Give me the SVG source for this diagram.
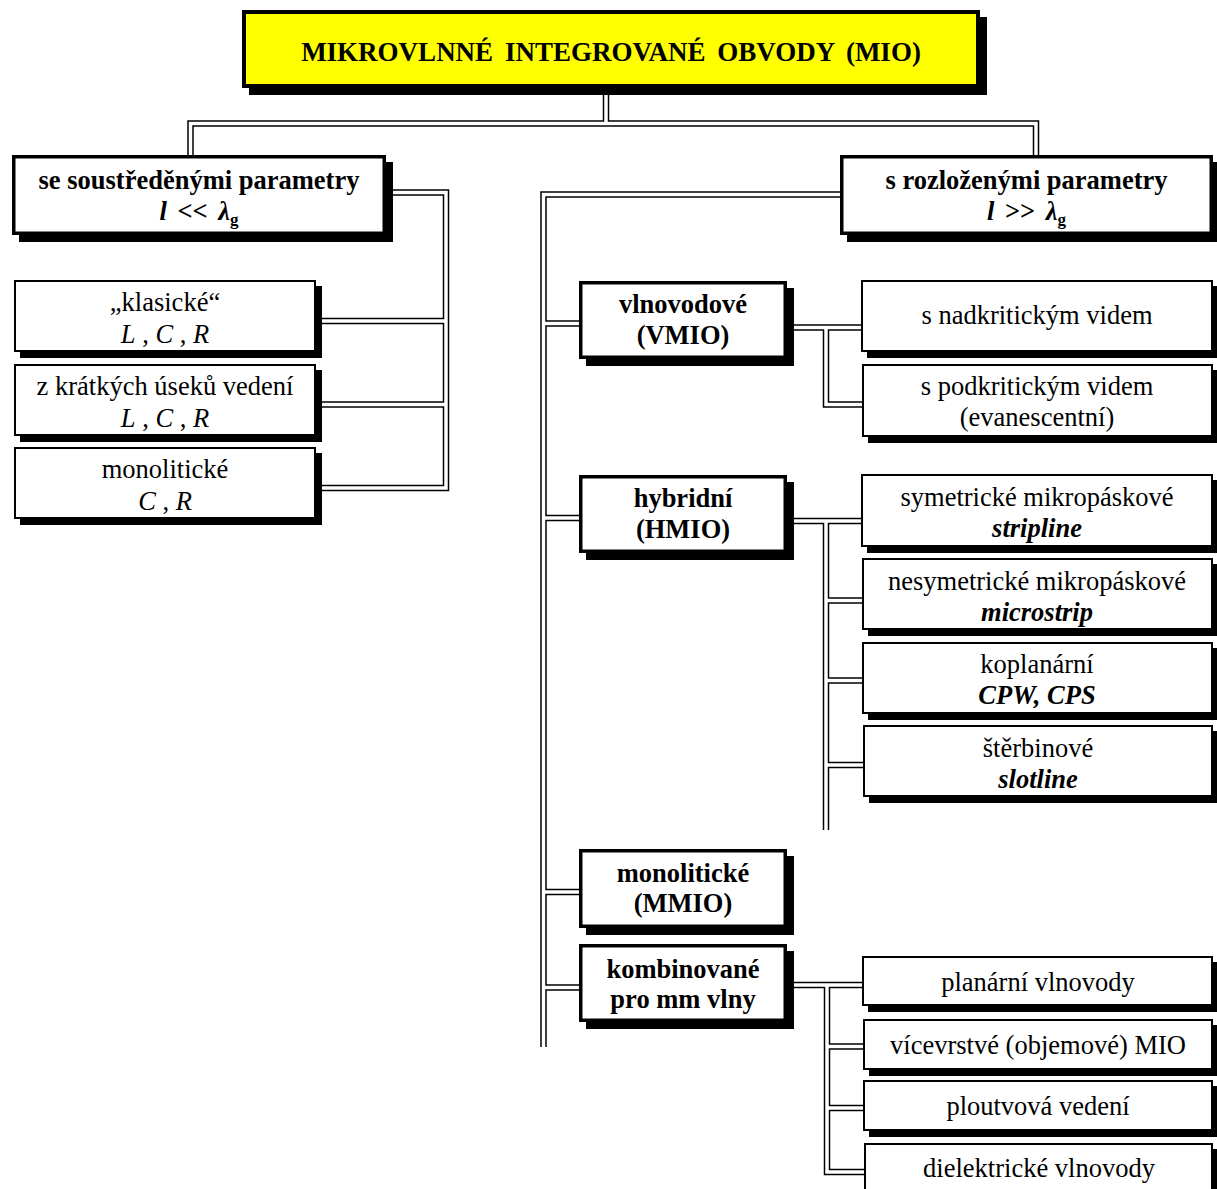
<svg xmlns="http://www.w3.org/2000/svg" width="1217" height="1189" viewBox="0 0 1217 1189">
  <style>
    .bg { fill: #ffffff; }
    .sh { fill: #000000; }
    .thick { fill: #ffffff; stroke: #000000; stroke-width: 3.5; }
    .thin { fill: #ffffff; stroke: #000000; stroke-width: 2; }
    .title-box { fill: #ffff00; stroke: #000000; stroke-width: 4; }
    .dbl-out { fill: none; stroke: #000000; stroke-width: 6.5; stroke-linejoin: miter; stroke-linecap: butt; }
    .dbl-in { fill: none; stroke: #ffffff; stroke-width: 3.5; stroke-linejoin: miter; stroke-linecap: butt; }
    text { font-family: "Liberation Serif", "Times New Roman", serif; fill: #000000; text-anchor: middle; }
    .t { font-size: 27px; font-weight: bold; word-spacing: 5px; }
    .b { font-size: 26.5px; font-weight: bold; }
    .r { font-size: 26.5px; }
    .i { font-style: italic; }
    .sub { font-size: 17px; font-weight: bold; }
  </style>
  <defs>
    <path id="wires" d="M 606 92 V 123.5
      M 190.5 158 V 123.5 H 1036 V 158
      M 383 192.5 H 446 V 488 H 312
      M 446 321 H 312
      M 446 404.5 H 312
      M 843 194.5 H 543.5 V 1047
      M 543.5 323.5 H 582
      M 543.5 518 H 582
      M 543.5 892 H 582
      M 543.5 987.5 H 582
      M 784 327.5 H 864
      M 826 327.5 V 404.5 H 865
      M 784 521 H 864
      M 826 521 V 830
      M 826 600.5 H 865
      M 826 680.5 H 865
      M 826 765 H 866
      M 784 985 H 865
      M 827 985 V 1172 H 867
      M 827 1046.5 H 866
      M 827 1108 H 866"/>
  </defs>
  <rect class="bg" x="0" y="0" width="1217" height="1189"/>

  <!-- connectors: each double line is a black stroke with a white core -->
  <g id="connectors">
    <use href="#wires" class="dbl-out"/>
    <use href="#wires" class="dbl-in"/>
  </g>

  <!-- root -->
  <g id="node-mio">
    <rect class="sh" x="249" y="17" width="738" height="78"/>
    <rect class="title-box" x="244" y="12" width="734" height="74"/>
    <text class="t" x="611" y="61">MIKROVLNNÉ INTEGROVANÉ OBVODY (MIO)</text>
  </g>

  <!-- lumped parameters branch -->
  <g id="node-lumped">
    <rect class="sh" x="19" y="162" width="374" height="80"/>
    <rect class="thick" x="13.75" y="156.75" width="370.5" height="76.5"/>
    <text class="b" x="199" y="189">se soustředěnými parametry</text>
    <text class="b" x="199" y="220" style="word-spacing:4px"><tspan class="i">l</tspan> &lt;&lt; <tspan class="i">λ</tspan><tspan class="sub" dy="5">g</tspan></text>
  </g>
  <g id="node-classic">
    <rect class="sh" x="20" y="286" width="302" height="72"/>
    <rect class="thin" x="15" y="281" width="300" height="70"/>
    <text class="r" x="165" y="311">„klasické“</text>
    <text class="r" x="165" y="343"><tspan class="i">L</tspan> , <tspan class="i">C</tspan> , <tspan class="i">R</tspan></text>
  </g>
  <g id="node-short-lines">
    <rect class="sh" x="20" y="370" width="302" height="72"/>
    <rect class="thin" x="15" y="365" width="300" height="70"/>
    <text class="r" x="165" y="395">z krátkých úseků vedení</text>
    <text class="r" x="165" y="427"><tspan class="i">L</tspan> , <tspan class="i">C</tspan> , <tspan class="i">R</tspan></text>
  </g>
  <g id="node-monolithic-lumped">
    <rect class="sh" x="20" y="453" width="302" height="72"/>
    <rect class="thin" x="15" y="448" width="300" height="70"/>
    <text class="r" x="165" y="478">monolitické</text>
    <text class="r" x="165" y="510"><tspan class="i">C</tspan> , <tspan class="i">R</tspan></text>
  </g>

  <!-- distributed parameters branch -->
  <g id="node-distributed">
    <rect class="sh" x="847" y="162" width="373" height="80"/>
    <rect class="thick" x="841.75" y="156.75" width="369.5" height="76.5"/>
    <text class="b" x="1026.5" y="189">s rozloženými parametry</text>
    <text class="b" x="1026.5" y="220" style="word-spacing:4px"><tspan class="i">l</tspan> &gt;&gt; <tspan class="i">λ</tspan><tspan class="sub" dy="5">g</tspan></text>
  </g>

  <g id="node-vmio">
    <rect class="sh" x="586" y="288" width="208" height="78"/>
    <rect class="thick" x="580.75" y="282.75" width="204.5" height="74.5"/>
    <text class="b" x="683" y="313">vlnovodové</text>
    <text class="b" x="683" y="344">(VMIO)</text>
  </g>
  <g id="node-supercritical">
    <rect class="sh" x="867" y="286" width="352" height="72"/>
    <rect class="thin" x="862" y="281" width="350" height="70"/>
    <text class="r" x="1037" y="324">s nadkritickým videm</text>
  </g>
  <g id="node-subcritical">
    <rect class="sh" x="868" y="370" width="351" height="73"/>
    <rect class="thin" x="863" y="365" width="349" height="71"/>
    <text class="r" x="1037" y="395">s podkritickým videm</text>
    <text class="r" x="1037" y="426">(evanescentní)</text>
  </g>

  <g id="node-hmio">
    <rect class="sh" x="586" y="482" width="208" height="78"/>
    <rect class="thick" x="580.75" y="476.75" width="204.5" height="74.5"/>
    <text class="b" x="683" y="507">hybridní</text>
    <text class="b" x="683" y="538">(HMIO)</text>
  </g>
  <g id="node-stripline">
    <rect class="sh" x="867" y="480" width="352" height="73"/>
    <rect class="thin" x="862" y="475" width="350" height="71"/>
    <text class="r" x="1037" y="506">symetrické mikropáskové</text>
    <text class="b i" x="1037" y="537">stripline</text>
  </g>
  <g id="node-microstrip">
    <rect class="sh" x="868" y="564" width="351" height="72"/>
    <rect class="thin" x="863" y="559" width="349" height="70"/>
    <text class="r" x="1037" y="590">nesymetrické mikropáskové</text>
    <text class="b i" x="1037" y="621">microstrip</text>
  </g>
  <g id="node-coplanar">
    <rect class="sh" x="868" y="648" width="351" height="72"/>
    <rect class="thin" x="863" y="643" width="349" height="70"/>
    <text class="r" x="1037" y="673">koplanární</text>
    <text class="b i" x="1037" y="704">CPW, CPS</text>
  </g>
  <g id="node-slotline">
    <rect class="sh" x="869" y="731" width="350" height="72"/>
    <rect class="thin" x="864" y="726" width="348" height="70"/>
    <text class="r" x="1038" y="757">štěrbinové</text>
    <text class="b i" x="1038" y="788">slotline</text>
  </g>

  <g id="node-mmio">
    <rect class="sh" x="586" y="856" width="208" height="79"/>
    <rect class="thick" x="580.75" y="850.75" width="204.5" height="75.5"/>
    <text class="b" x="683" y="882">monolitické</text>
    <text class="b" x="683" y="912">(MMIO)</text>
  </g>

  <g id="node-mm-waves">
    <rect class="sh" x="586" y="951" width="208" height="78"/>
    <rect class="thick" x="580.75" y="945.75" width="204.5" height="74.5"/>
    <text class="b" x="683" y="978">kombinované</text>
    <text class="b" x="683" y="1008">pro mm vlny</text>
  </g>
  <g id="node-planar">
    <rect class="sh" x="868" y="962" width="351" height="50"/>
    <rect class="thin" x="863" y="957" width="349" height="48"/>
    <text class="r" x="1038" y="991">planární vlnovody</text>
  </g>
  <g id="node-multilayer">
    <rect class="sh" x="869" y="1025" width="350" height="51"/>
    <rect class="thin" x="864" y="1020" width="348" height="49"/>
    <text class="r" x="1038" y="1054">vícevrstvé (objemové) MIO</text>
  </g>
  <g id="node-finline">
    <rect class="sh" x="869" y="1086" width="350" height="51"/>
    <rect class="thin" x="864" y="1081" width="348" height="49"/>
    <text class="r" x="1038" y="1115">ploutvová vedení</text>
  </g>
  <g id="node-dielectric">
    <rect class="sh" x="870" y="1149" width="349" height="60"/>
    <rect class="thin" x="865" y="1144" width="347" height="58"/>
    <text class="r" x="1039" y="1177">dielektrické vlnovody</text>
  </g>
</svg>
